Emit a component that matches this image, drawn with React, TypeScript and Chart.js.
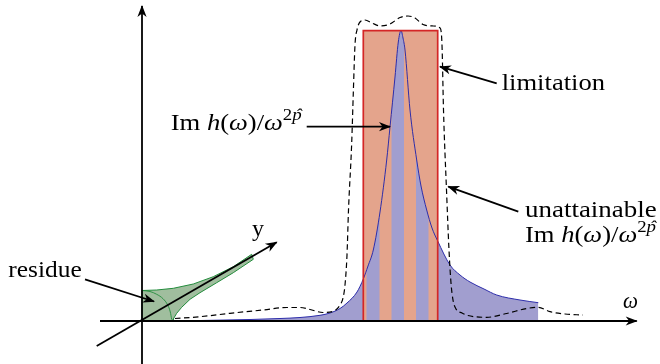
import React, { useEffect, useRef } from 'react';
import { Chart, registerables } from 'chart.js';

Chart.register(...registerables);

// ---- data (diagram units: x = ω, y = amplitude) ----
const blueX = [0, 58, 108, 138, 158, 178, 188, 198, 205, 215, 221.3, 226, 231.3, 238, 244.7, 248, 253, 256.3, 259, 261, 263, 268, 274.7, 279, 284.7, 290, 295.7, 308, 318, 328, 342, 354.7, 378, 396.3];
const blueY = [0, 0.5, 1.5, 2.5, 3.5, 5.7, 8, 12.5, 18, 29, 42, 55, 71, 109, 161, 194, 244, 279, 290.5, 283, 271, 211, 161, 135, 111, 93, 80, 56, 46, 39, 32, 26, 21, 18.3];

const dashX = [33, 58, 88, 121, 145, 158, 168, 181, 192, 198, 201, 203, 205, 206.5, 209.7, 211.3, 213, 215, 218, 223, 230, 238, 248, 258, 266, 273, 281, 291, 298, 300, 301.5, 304.5, 307, 309, 311, 314, 320, 326, 344.7, 364.7, 384.7, 396.3, 408, 423, 441];
const dashY = [2.5, 4.3, 7.7, 11, 13.5, 13.5, 11.5, 8.5, 10, 16, 23, 36, 66, 111, 178, 228, 276, 291, 299, 301, 298, 295, 297, 303.5, 305, 303, 296.5, 295, 293, 276, 211, 131, 71, 38, 21, 12, 8, 5.5, 3.7, 7.5, 12.5, 13.7, 9.3, 7, 6];

const limitX = [221.3, 221.3, 295.7, 295.7];
const limitY = [0, 290.3, 290.3, 0];
const limitTop = 290.3;
const columnStart = [221.3, 237.3, 262, 286.3];
const columnEnd = [224.7, 249.7, 274, 295.7];

const residueX = [0, 14.7, 31.3, 51.3, 71.3, 91.3, 109.7, 111.3, 91.3, 74.7, 58, 48, 39.7, 34.7, 31.3, 31.3, 0, 0];
const residueY = [30.5, 31, 32.7, 37, 44.3, 54.3, 66.7, 61.7, 48.3, 38.3, 28.3, 21.7, 13.7, 7.7, 2, 0, 0, 30.5];
const arcX = [0, 8, 14.7, 21, 25.7, 28.3, 29.7];
const arcY = [30.5, 29.5, 26.7, 22.3, 16, 9, 1.5];

// arrows: [fromX, fromY, toX, toY]
const omegaAxis = [-42, 0, 494.7, 0];
const imAxis = [0, -43, 0, 315];
const yAxis = [-45.3, -25, 134.7, 78.7];
const residueArrow = [-57, 41.7, 12, 19.5];
const imArrow = [164.7, 194.3, 248, 194.3];
const limitArrow = [354.7, 237.7, 298, 254.3];
const unattainableArrow = [376.3, 109.3, 306.3, 134.3];
const arrows = [omegaAxis, imAxis, yAxis, residueArrow, imArrow, limitArrow, unattainableArrow];

// ---- styles ----
const ORANGE = 'rgb(228,164,140)';
const LAVENDER = 'rgb(161,158,207)';
const BLUE = 'rgb(45,45,170)';
const RED = 'rgb(212,38,38)';
const GREEN_FILL = 'rgb(160,190,158)';
const GREEN_LINE = 'rgb(35,140,60)';
const NONE = 'rgba(0,0,0,0)';
const FAMILY = 'Liberation Serif';
const FONT = `"${FAMILY}", serif`;

type Seg = { t: string; italic?: boolean; size?: number; rise?: number; gap?: number; hat?: boolean };

const mathLabel: Seg[] = [
  { t: 'Im', gap: 6 },
  { t: 'h', italic: true },
  { t: '(' },
  { t: 'ω', italic: true },
  { t: ')' },
  { t: '/' },
  { t: 'ω', italic: true },
  { t: '2', size: 17, rise: 10 },
  { t: 'p', italic: true, size: 17, rise: 10, hat: true },
];

const labels: { segs: Seg[]; x: number; y: number; w: number }[] = [
  { segs: [{ t: 'residue' }], x: -133.7, y: 44.3, w: 73.4 },
  { segs: [{ t: 'limitation' }], x: 359.7, y: 231, w: 103.3 },
  { segs: [{ t: 'unattainable' }], x: 383, y: 104.3, w: 131.7 },
  { segs: mathLabel, x: 383, y: 79.3, w: 131 },
  { segs: mathLabel, x: 28.7, y: 191, w: 131 },
  { segs: [{ t: 'y' }], x: 110, y: 85, w: 12 },
  { segs: [{ t: 'ω', italic: true }], x: 481, y: 13, w: 15 },
];

const pts = (xs: number[], ys: number[]) => xs.map((x, i) => ({ x, y: ys[i] }));

function fontOf(s: Seg) {
  return `${s.italic ? 'italic ' : ''}${s.size ?? 24}px ${FONT}`;
}

function drawRun(ctx: CanvasRenderingContext2D, segs: Seg[], x: number, y: number, targetW: number) {
  const widths: number[] = [];
  let total = 0;
  segs.forEach((s) => {
    ctx.font = fontOf(s);
    const w = ctx.measureText(s.t).width;
    widths.push(w);
    total += w + (s.gap ?? 0);
  });
  const k = targetW / total;
  ctx.save();
  ctx.translate(x, y);
  ctx.scale(k, 1);
  ctx.fillStyle = '#000';
  ctx.textAlign = 'left';
  ctx.textBaseline = 'alphabetic';
  let cx = 0;
  segs.forEach((s, i) => {
    ctx.font = fontOf(s);
    const r = s.rise ?? 0;
    ctx.fillText(s.t, cx, -r);
    if (s.hat) {
      const hw = ctx.measureText('ˆ').width;
      ctx.fillText('ˆ', cx + (widths[i] - hw) / 2 + 1.5, -r);
    }
    cx += widths[i] + (s.gap ?? 0);
  });
  ctx.restore();
}

const diagramPlugin = {
  id: 'diagramExtras',
  afterDatasetsDraw(chart: any) {
    const { ctx, scales } = chart;
    const xs = scales.x;
    const ys = scales.y;
    ctx.save();
    ctx.fillStyle = '#000';
    arrows.forEach((a) => {
      const x0 = xs.getPixelForValue(a[0]);
      const y0 = ys.getPixelForValue(a[1]);
      const x1 = xs.getPixelForValue(a[2]);
      const y1 = ys.getPixelForValue(a[3]);
      const ang = Math.atan2(y1 - y0, x1 - x0);
      ctx.save();
      ctx.translate(x1, y1);
      ctx.rotate(ang);
      ctx.beginPath();
      ctx.moveTo(1, 0);
      ctx.lineTo(-11, 4.6);
      ctx.lineTo(-7.5, 0);
      ctx.lineTo(-11, -4.6);
      ctx.closePath();
      ctx.fill();
      ctx.restore();
    });
    labels.forEach((l) => {
      drawRun(ctx, l.segs, xs.getPixelForValue(l.x), ys.getPixelForValue(l.y), l.w);
    });
    ctx.restore();
  },
};

export default function App() {
  const ref = useRef<HTMLCanvasElement>(null);
  useEffect(() => {
    const datasets: any[] = [];
    datasets.push({
      data: pts(limitX, limitY), fill: 'origin', backgroundColor: ORANGE,
      borderColor: NONE, borderWidth: 0, order: 10,
    });
    datasets.push({
      data: pts(blueX, blueY), fill: 'origin', backgroundColor: LAVENDER,
      borderColor: NONE, borderWidth: 0, cubicInterpolationMode: 'monotone', order: 9,
    });
    columnStart.forEach((s, i) => {
      const e = columnEnd[i];
      datasets.push({
        data: pts([s, s, e, e], [0, limitTop, limitTop, 0]), fill: 'origin',
        backgroundColor: ORANGE, borderColor: NONE, borderWidth: 0, order: 8,
      });
    });
    datasets.push({
      data: pts(blueX, blueY), fill: false, borderColor: BLUE, borderWidth: 1,
      cubicInterpolationMode: 'monotone', order: 7,
    });
    datasets.push({
      data: pts(limitX, limitY), fill: false, borderColor: RED, borderWidth: 1.7, order: 6,
    });
    datasets.push({
      data: pts(dashX, dashY), fill: false, borderColor: '#000', borderWidth: 1.2,
      borderDash: [5.5, 3.5], cubicInterpolationMode: 'monotone', order: 5,
    });
    datasets.push({
      data: pts(residueX, residueY), fill: 'shape', backgroundColor: GREEN_FILL,
      borderColor: GREEN_LINE, borderWidth: 1, order: 5,
    });
    datasets.push({
      data: pts(arcX, arcY), fill: false, borderColor: GREEN_LINE, borderWidth: 0.9,
      cubicInterpolationMode: 'monotone', order: 4,
    });
    arrows.forEach((a) => {
      datasets.push({
        data: pts([a[0], a[2]], [a[1], a[3]]), fill: false, borderColor: '#000',
        borderWidth: 1.8, order: 1,
      });
    });

    const chart = new Chart(ref.current as HTMLCanvasElement, {
      type: 'line',
      data: { datasets },
      options: {
        animation: false,
        responsive: false,
        devicePixelRatio: 1,
        layout: { padding: 0 },
        elements: { point: { radius: 0, hoverRadius: 0 } },
        plugins: { legend: { display: false }, tooltip: { enabled: false } },
        events: [],
        scales: {
          x: { type: 'linear', min: -142, max: 518, display: false },
          y: { type: 'linear', min: -43, max: 321, display: false },
        },
      },
      plugins: [diagramPlugin],
    } as any);
    let alive = true;
    const fonts = (document as any).fonts;
    if (fonts && fonts.load) {
      Promise.all([
        fonts.load(`24px "${FAMILY}"`),
        fonts.load(`italic 24px "${FAMILY}"`),
      ]).then(() => { if (alive) chart.draw(); }).catch(() => {});
    }
    return () => { alive = false; chart.destroy(); };
  }, []);
  return (
    <div style={{ position: 'absolute', left: 0, top: 0, width: 660, height: 364, background: '#fff' }}>
      <canvas ref={ref} width={660} height={364} style={{ display: 'block' }} />
      <span style={{ position: 'absolute', left: -9999, top: 0, fontFamily: `"${FAMILY}"` }}>
        a<i>a</i>
      </span>
    </div>
  );
}
